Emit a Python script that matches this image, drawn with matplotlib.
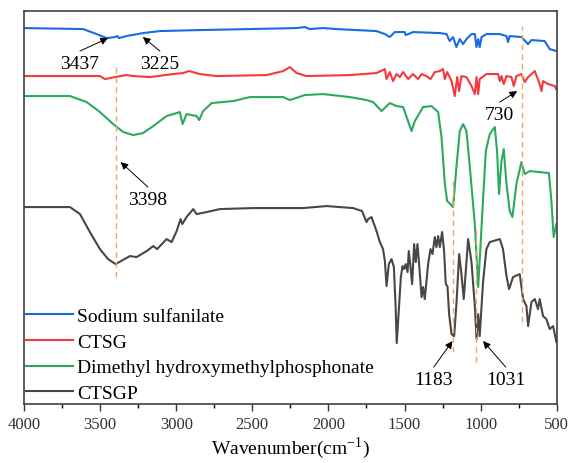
import numpy as np
import matplotlib
matplotlib.use('Agg')
import matplotlib.pyplot as plt

plt.rcParams['font.family'] = ['Liberation Serif', 'DejaVu Serif']
plt.rcParams['mathtext.fontset'] = 'stix'

# FTIR spectra, wavenumber (cm-1) and stacked transmittance (a.u.)
ctsgp_wn = [4000, 3698, 3632, 3567, 3501, 3448, 3398, 3304, 3260, 3194, 3151, 3125, 3063,
            3030, 2997, 2971, 2960, 2932, 2888, 2866, 2800, 2713, 2494, 2166, 2012, 1838,
            1779, 1750, 1739, 1717, 1684, 1662, 1641, 1629, 1618, 1603, 1585, 1570, 1559,
            1551, 1538, 1524, 1513, 1503, 1492, 1480, 1472, 1461, 1450, 1437, 1426, 1415,
            1404, 1388, 1378, 1367, 1345, 1329, 1316, 1301, 1290, 1279, 1268, 1253, 1240,
            1229, 1218, 1207, 1191, 1174, 1159, 1141, 1126, 1111, 1082, 1060, 1038,
            1027, 1016, 1006, 984, 962, 940, 874, 853, 830, 813, 787, 743, 721, 699, 688,
            666, 644, 623, 612, 590, 568, 546, 524, 502]
ctsgp_t = [197, 197, 190, 172, 155, 145, 140, 148, 147, 153, 158, 155, 165,
           162, 173, 185, 180, 187, 195, 190, 192, 195, 196, 196, 198, 196,
           193, 182, 185, 187, 173, 162, 155, 143, 118, 140, 145, 137, 100,
           61, 93, 127, 138, 135, 140, 132, 153, 138, 120, 160, 142, 160,
           140, 107, 117, 105, 140, 155, 150, 167, 157, 168, 157, 172, 153,
           120, 118, 90, 70, 68, 100, 150, 130, 105, 165, 142, 98,
           65, 90, 68, 122, 155, 162, 165, 155, 128, 115, 127, 130, 105, 98, 78,
           102, 105, 95, 105, 88, 85, 75, 78, 62]

dhmp_wn = [4000, 3698, 3588, 3501, 3414, 3348, 3282, 3217, 3151, 3063, 2976, 2958, 2932,
           2866, 2849, 2823, 2767, 2626, 2516, 2297, 2253, 2155, 2035, 1859, 1750, 1706,
           1651, 1597, 1553, 1509, 1454, 1432, 1378, 1323, 1279, 1257, 1235, 1220, 1198,
           1181, 1159, 1137, 1115, 1093, 1071, 1038, 1016, 994, 966, 940, 907, 892, 879,
           863, 848, 830, 809, 791, 765, 732, 710, 677, 612, 551, 535, 520, 502]
dhmp_t = [308, 308, 302, 292, 280, 272, 269, 271, 278, 288, 292, 280, 290,
          288, 284, 293, 301, 303, 307, 307, 304, 309, 310, 307, 304, 302,
          293, 301, 298, 297, 273, 283, 297, 298, 292, 267, 220, 203, 200,
          197, 237, 273, 280, 273, 237, 180, 117, 177, 253, 270, 277, 253, 210,
          243, 255, 220, 193, 187, 220, 242, 230, 233, 232, 231, 203, 167, 180]

ctsg_wn = [4000, 3501, 3468, 3402, 3326, 3282, 3173, 3022, 2954, 2915, 2844, 2735, 2406,
           2297, 2253, 2209, 2144, 1859, 1684, 1629, 1618, 1597, 1575, 1553, 1531, 1509,
           1476, 1444, 1411, 1388, 1356, 1329, 1301, 1268, 1247, 1235, 1220, 1191, 1170,
           1154, 1141, 1126, 1093, 1060, 1038, 1027, 1016, 1006, 962, 885, 874, 863, 848,
           830, 798, 782, 765, 732, 710, 688, 644, 612, 600, 590, 557, 513, 500]
ctsg_t = [328, 328, 325, 327, 329, 328, 327, 330, 331, 333, 330, 328, 329,
          333, 337, 331, 328, 329, 331, 335, 325, 332, 323, 330, 327, 332,
          325, 330, 325, 330, 328, 325, 332, 333, 335, 325, 332, 323, 308,
          327, 313, 328, 327, 318, 310, 327, 310, 325, 330, 330, 323, 328, 320,
          328, 327, 318, 328, 330, 322, 327, 333, 320, 313, 323, 320, 318, 314]

sulf_wn = [4000, 3611, 3523, 3457, 3402, 3387, 3376, 3326, 3217, 3107, 2844, 2516, 2209,
           2155, 2122, 2035, 1947, 1684, 1629, 1597, 1564, 1498, 1492, 1444, 1268, 1224,
           1203, 1181, 1159, 1137, 1115, 1093, 1060, 1038, 1027, 1016, 1006, 994, 962,
           874, 830, 820, 809, 732, 688, 666, 579, 546, 502]
sulf_t = [376, 375, 370, 366, 367, 368, 366, 368, 371, 373, 374, 375, 376,
          377, 375, 376, 375, 373, 370, 367, 372, 372, 369, 372, 371, 370,
          363, 367, 357, 365, 360, 365, 370, 370, 357, 365, 357, 367, 370,
          370, 368, 362, 368, 367, 360, 364, 363, 355, 353]

series = [
    ('Sodium sulfanilate', sulf_wn, sulf_t, '#1a6be3'),
    ('CTSG', ctsg_wn, ctsg_t, '#f5393c'),
    ('Dimethyl hydroxymethylphosphonate', dhmp_wn, dhmp_t, '#2aab5c'),
    ('CTSGP', ctsgp_wn, ctsgp_t, '#474747'),
]

# marked bands: (wavenumber, y_from, y_to)
band_lines = [(3398, 127, 337), (1183, 52, 227), (1031, 42, 178), (730, 82, 378)]

# labels: text, text position, arrow tip
peak_labels = [
    ('3437', (3632, 341), (3448, 366)),
    ('3225', (3107, 341), (3219, 367)),
    ('3398', (3186, 205), (3365, 242)),
    ('730', (874, 290), (760, 313)),
    ('1183', (1308, 25), (1185, 63)),
    ('1031', (835, 25), (984, 63)),
]

fig = plt.figure(figsize=(5.71, 4.64), dpi=100)
ax = fig.add_axes([0.042, 0.127, 0.933, 0.847])

for name, wn, t, c in series:
    ax.plot(wn, t, color=c, lw=1.5, label=name, solid_joinstyle='round')

for wn, y0, y1 in band_lines:
    ax.plot([wn, wn], [y0, y1], color='#f4a46a', lw=1, ls=(0, (4, 3)))

for txt, xy_text, xy_tip in peak_labels:
    ax.annotate('', xy=xy_tip, xytext=(xy_text[0], xy_text[1] + 12),
                arrowprops=dict(arrowstyle='-|>', color='black', lw=0.7,
                                mutation_scale=11, shrinkA=0, shrinkB=0))
    ax.text(xy_text[0], xy_text[1], txt, fontsize=14, ha='center', va='center')

ax.set_xlim(4000, 500)
ax.set_ylim(0, 393)
ax.set_xticks(np.arange(4000, 499, -500))
ax.set_xticks(np.arange(3750, 500, -500), minor=True)
ax.set_yticks([])
ax.tick_params(axis='x', which='major', direction='out', length=5, width=1, labelsize=12, colors='#333333')
ax.tick_params(axis='x', which='minor', direction='out', length=3, width=1)
for s in ax.spines.values():
    s.set_color('#404040')
    s.set_linewidth(1.2)
ax.set_xlabel('Wavenumber(cm$^{\\mathregular{-1}}$)', fontsize=14, labelpad=2)

ax.legend(loc='lower left', frameon=False, fontsize=14, handlelength=2.4,
          handletextpad=0.25, labelspacing=0.42, borderaxespad=0.0, borderpad=0.1)

fig.savefig('out.png', dpi=100)
